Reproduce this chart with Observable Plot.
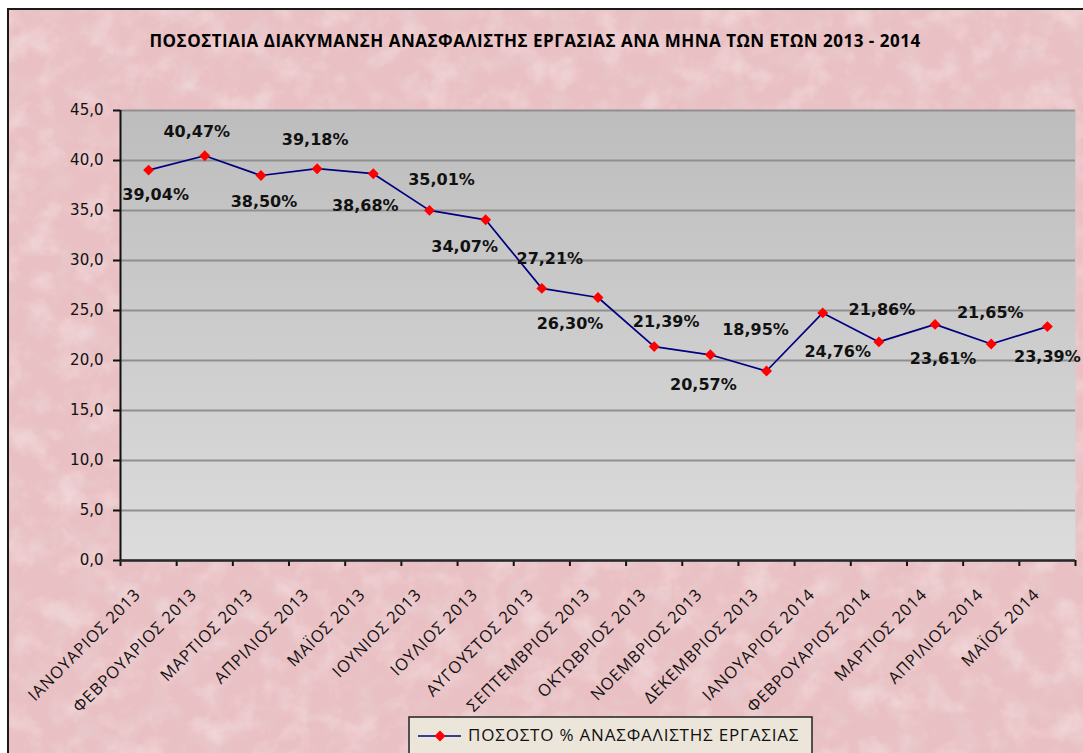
<!DOCTYPE html>
<html>
<head>
<meta charset="utf-8">
<script src="https://cdn.jsdelivr.net/npm/d3@7"></script>
<script src="https://cdn.jsdelivr.net/npm/@observablehq/plot@0.6"></script>
<style>
  html, body { margin: 0; padding: 0; background: #ffffff; }
  #chart { position: relative; width: 1083px; height: 753px; overflow: hidden; }
  #chart svg { display: block; }
</style>
</head>
<body>
<div id="chart"></div>
<script>
// ---------- data ----------
const chartTitle = "ΠΟΣΟΣΤΙΑΙΑ ΔΙΑΚΥΜΑΝΣΗ ΑΝΑΣΦΑΛΙΣΤΗΣ ΕΡΓΑΣΙΑΣ ΑΝΑ ΜΗΝΑ ΤΩΝ ΕΤΩΝ 2013 - 2014";
const seriesName = "ΠΟΣΟΣΤΟ % ΑΝΑΣΦΑΛΙΣΤΗΣ ΕΡΓΑΣΙΑΣ";
const months = [
  "ΙΑΝΟΥΑΡΙΟΣ 2013", "ΦΕΒΡΟΥΑΡΙΟΣ 2013", "ΜΑΡΤΙΟΣ 2013", "ΑΠΡΙΛΙΟΣ 2013",
  "ΜΑΪΟΣ 2013", "ΙΟΥΝΙΟΣ 2013", "ΙΟΥΛΙΟΣ 2013", "ΑΥΓΟΥΣΤΟΣ 2013",
  "ΣΕΠΤΕΜΒΡΙΟΣ 2013", "ΟΚΤΩΒΡΙΟΣ 2013", "ΝΟΕΜΒΡΙΟΣ 2013", "ΔΕΚΕΜΒΡΙΟΣ 2013",
  "ΙΑΝΟΥΑΡΙΟΣ 2014", "ΦΕΒΡΟΥΑΡΙΟΣ 2014", "ΜΑΡΤΙΟΣ 2014", "ΑΠΡΙΛΙΟΣ 2014", "ΜΑΪΟΣ 2014"
];
const values = [39.04, 40.47, 38.50, 39.18, 38.68, 35.01, 34.07, 27.21, 26.30,
                21.39, 20.57, 18.95, 24.76, 21.86, 23.61, 21.65, 23.39];
const yTicks = [0, 5, 10, 15, 20, 25, 30, 35, 40, 45];

// data-label placement (pixel offsets from each point, as in the original)
const labelDx = [7, -8, 3, -2, -8, 12, -21, 8, -28, 12, -7, -11, 15, 3, 8, -1, 0];
const labelDy = [25, -24, 26, -29, 32, -31, 27, -30, 26, -25, 30, -41, 39, -32, 34, -31, 30];

// ---------- build ----------
const data = months.map((m, i) => ({m, i, x: i + 0.5, v: values[i]}));
const fmtPct = v => v.toFixed(2).replace(".", ",") + "%";
const fmtTick = v => v.toFixed(1).replace(".", ",");

const labelMarks = data.map((d, i) =>
  Plot.text([d], {
    x: "x", y: "v", text: dd => fmtPct(dd.v),
    dx: labelDx[i], dy: labelDy[i],
    fontFamily: "DejaVu Sans", fontWeight: "bold", fontSize: 16, fill: "#111"
  })
);

const plot = Plot.plot({
  width: 1083, height: 753,
  marginLeft: 120, marginRight: 8, marginTop: 110, marginBottom: 193,
  x: {domain: [0, 17], axis: null},
  y: {domain: [0, 45], axis: null},
  style: {background: "transparent", fontFamily: "DejaVu Sans", fontSize: "15px", color: "#111", overflow: "visible"},
  marks: [
    Plot.frame({fill: "url(#plotGrad)", stroke: null}),
    Plot.gridY(yTicks, {stroke: "#8f8f8f", strokeOpacity: 1, strokeWidth: 2}),
    Plot.axisY(yTicks, {label: null, tickSize: 7, tickPadding: 10, tickFormat: fmtTick, strokeWidth: 2, fontSize: 15, fill: "#111", letterSpacing: "0.4px"}),
    Plot.axisX(d3.range(18), {label: null, tickSize: 6, tickFormat: () => "", strokeWidth: 2}),
    Plot.ruleY([0], {stroke: "#2a2a2a", strokeWidth: 2.5}),
    Plot.ruleX([0], {stroke: "#111", strokeWidth: 2}),
    Plot.line(data, {x: "x", y: "v", stroke: "#000080", strokeWidth: 1.7}),
    Plot.dot(data, {x: "x", y: "v", symbol: "diamond2", r: 4.9, fill: "#ff0000", stroke: "none"}),
    ...labelMarks,
    Plot.text(data, {
      x: "x", text: "m", frameAnchor: "bottom", rotate: -45,
      textAnchor: "end", lineAnchor: "bottom", dx: -7, dy: 35,
      fontFamily: "Open Sans", fontSize: 16.5, fill: "#111"
    })
  ]
});

const svg = d3.select(plot);
// spread rotated tick labels slightly to match the original's wide lettering
svg.selectAll("text").filter(function() { return months.includes(this.textContent); })
  .attr("letter-spacing", "0.8px");

const defs = svg.insert("defs", ":first-child");
const grad = defs.append("linearGradient").attr("id", "plotGrad")
  .attr("x1", 0).attr("y1", 0).attr("x2", 0).attr("y2", 1);
grad.append("stop").attr("offset", "0%").attr("stop-color", "#bdbdbd");
grad.append("stop").attr("offset", "100%").attr("stop-color", "#dcdcdc");

const filt = defs.append("filter").attr("id", "marble")
  .attr("x", 0).attr("y", 0).attr("width", "100%").attr("height", "100%");
filt.append("feTurbulence").attr("type", "fractalNoise")
  .attr("baseFrequency", "0.04").attr("numOctaves", 5).attr("seed", 7).attr("result", "n");
filt.append("feColorMatrix").attr("in", "n").attr("type", "matrix")
  .attr("values", "0 0 0 0 0.80  0 0 0 0 0.62  0 0 0 0 0.65  1.4 0 0 0 -0.62")
  .attr("result", "dark");
filt.append("feTurbulence").attr("type", "fractalNoise")
  .attr("baseFrequency", "0.035").attr("numOctaves", 4).attr("seed", 11).attr("result", "n2");
filt.append("feColorMatrix").attr("in", "n2").attr("type", "matrix")
  .attr("values", "0 0 0 0 0.95  0 0 0 0 0.83  0 0 0 0 0.84  1.0 0 0 0 -0.48")
  .attr("result", "light");
const merge = filt.append("feMerge");
merge.append("feMergeNode").attr("in", "SourceGraphic");
merge.append("feMergeNode").attr("in", "dark");
merge.append("feMergeNode").attr("in", "light");

// background (chart area) — behind all marks
const bg = svg.insert("g", "defs + *");
bg.append("rect").attr("x", 8).attr("y", 9).attr("width", 1100).attr("height", 800)
  .attr("fill", "#e9c0c3").attr("filter", "url(#marble)");
bg.append("rect").attr("x", 8).attr("y", 9).attr("width", 1100).attr("height", 800)
  .attr("fill", "none").attr("stroke", "#1a1a1a").attr("stroke-width", 2);

// title
svg.append("text").attr("x", 535).attr("y", 47).attr("text-anchor", "middle")
  .attr("font-family", "Open Sans").attr("font-weight", "bold").attr("font-size", 17)
  .attr("letter-spacing", "0.5px").attr("fill", "#000").text(chartTitle);

// legend
const lg = svg.append("g");
lg.append("rect").attr("x", 409).attr("y", 717).attr("width", 403).attr("height", 60)
  .attr("fill", "#ece6da").attr("stroke", "#222").attr("stroke-width", 1.5);
lg.append("line").attr("x1", 418).attr("x2", 461).attr("y1", 736).attr("y2", 736)
  .attr("stroke", "#000080").attr("stroke-width", 1.7);
lg.append("path").attr("d", d3.symbol(d3.symbolDiamond2, 4.9 * 4.9 * Math.PI)())
  .attr("transform", "translate(440,736)").attr("fill", "#ff0000");
lg.append("text").attr("x", 468).attr("y", 741).attr("text-anchor", "start")
  .attr("font-family", "Open Sans").attr("font-size", 17).attr("letter-spacing", "0.8px")
  .attr("fill", "#111").text(seriesName);

document.getElementById("chart").appendChild(plot);
</script>
</body>
</html>
